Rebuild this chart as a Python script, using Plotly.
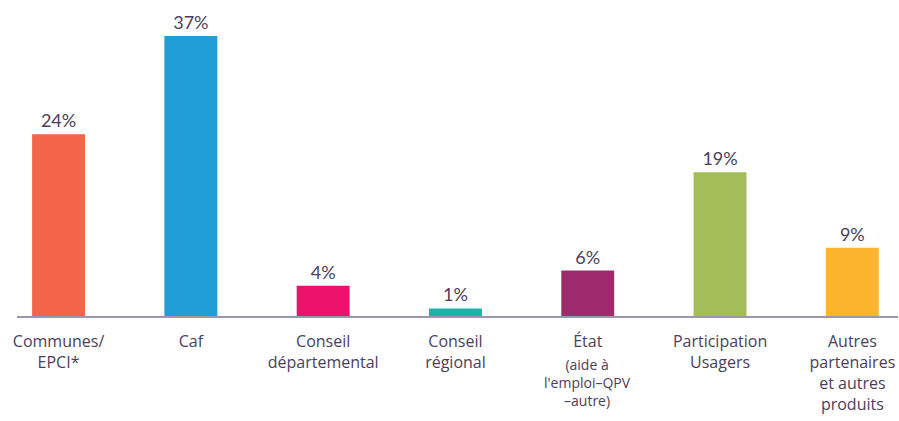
import plotly.graph_objects as go

categories = ["Communes/<br>EPCI*", "Caf", "Conseil<br>départemental", "Conseil<br>régional",
              "État", "Participation<br>Usagers", "Autres<br>partenaires<br>et autres<br>produits"]
values = [24, 37, 4, 1, 6, 19, 9]
value_labels = ["24%", "37%", "4%", "1%", "6%", "19%", "9%"]
colors = ["#F26548", "#219DD8", "#EC116B", "#16B6A8", "#9D2B6E", "#A3BD57", "#FBB52D"]
etat_sub = "(aide à<br>l'emploi–QPV<br>–autre)"

TEXT = "#4B3E5C"
FONT = "Lato, Raleway, 'Open Sans', sans-serif"
LFONT = "'Open Sans', sans-serif"

x_idx = list(range(len(categories)))

fig = go.Figure(go.Bar(
    x=x_idx, y=values, width=0.4,
    marker=dict(color=colors, line=dict(width=0)),
    text=value_labels, textposition="outside",
    textfont=dict(size=18, color=TEXT, family=FONT),
    cliponaxis=False, hoverinfo="skip",
))

fig.add_annotation(x=4, y=0, xref="x", yref="paper", text=etat_sub,
                   showarrow=False, yanchor="top", yshift=-37,
                   font=dict(size=14, color=TEXT, family=LFONT))

fig.update_layout(
    width=899, height=421,
    margin=dict(l=17, r=1, t=0, b=105),
    paper_bgcolor="white", plot_bgcolor="white",
    showlegend=False,
    font=dict(family=FONT, color=TEXT, size=18),
    xaxis=dict(tickmode="array", tickvals=x_idx, ticktext=categories,
               range=[-0.314, 6.345], showgrid=False, zeroline=False,
               showline=True, linecolor="#9D95A8", linewidth=2,
               ticks="", ticklabelstandoff=10,
               tickfont=dict(size=16, color=TEXT, family=LFONT)),
    yaxis=dict(range=[0, 41.74], visible=False, showgrid=False, zeroline=False),
)

fig.write_html(
    "out.html",
    config={"displayModeBar": False},
    post_script="document.body.style.margin='0';document.body.style.overflow='hidden';",
)
